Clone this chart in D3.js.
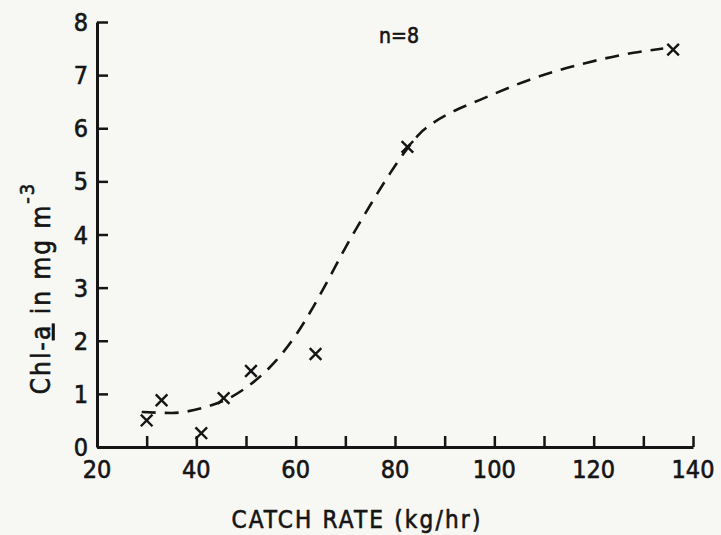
<!DOCTYPE html>
<html lang="en">
<head>
    <meta charset="UTF-8">
    <title>Chl-a vs catch rate</title>
    <script type="text/javascript" src="https://d3js.org/d3.v7.min.js"></script>
    <style>
        body { margin: 0; background: #f7f7f4; }
        svg { display: block; }
        text {
            font-family: "DejaVu Sans Condensed", "DejaVu Sans", sans-serif;
            font-stretch: condensed;
            fill: #151515;
            stroke: #151515;
            stroke-width: 0.6px;
        }
        .axis path, .axis line { stroke: #151515; }
    </style>
</head>
<body>
    <script type="text/javascript">
        // measured points (catch rate, chl-a)
        var catchRate = [30, 33, 41, 45.5, 51, 64, 82.5, 136];
        var chlA = [0.5, 0.88, 0.26, 0.92, 1.43, 1.75, 5.65, 7.48];

        // dashed fitted curve
        var curveX = [29, 35, 41, 47, 52, 56, 60, 63, 66, 70, 75, 79, 82.5, 85, 88, 92, 97, 107, 118.5, 128, 134];
        var curveY = [0.66, 0.64, 0.73, 0.94, 1.26, 1.62, 2.1, 2.55, 3.05, 3.75, 4.55, 5.15, 5.62, 5.9, 6.12, 6.33, 6.53, 6.91, 7.23, 7.42, 7.5];

        var xTicks = [30, 40, 50, 60, 70, 80, 90, 100, 110, 120, 130, 140];
        var xLabels = [20, 40, 60, 80, 100, 120, 140];
        var yTicks = [0, 1, 2, 3, 4, 5, 6, 7, 8];

        const width = 721;
        const height = 535;

        var svg = d3.select('body').append('svg')
            .attr('width', width)
            .attr('height', height);

        var xScale = d3.scaleLinear().domain([20, 140]).range([97, 693]);
        var yScale = d3.scaleLinear().domain([0, 8]).range([447, 22]);

        // x axis, ticks point up into the plot
        var xaxis = d3.axisBottom(xScale)
            .tickValues(xTicks)
            .tickSizeInner(-11)
            .tickSizeOuter(0)
            .tickFormat('');
        var gx = svg.append('g').attr('class', 'axis')
            .attr('transform', 'translate(0,' + yScale(0) + ')')
            .call(xaxis);
        gx.select('.domain').attr('stroke-width', 3);
        gx.selectAll('.tick line').attr('stroke-width', 2.5);

        svg.append('g').selectAll('text')
            .data(xLabels)
            .enter()
            .append('text')
            .attr('x', d => xScale(d))
            .attr('y', yScale(0) + 31)
            .attr('text-anchor', 'middle')
            .attr('font-size', 25)
            .text(d => d);

        // y axis, ticks point right
        var yaxis = d3.axisLeft(yScale)
            .tickValues(yTicks)
            .tickSizeInner(-11)
            .tickSizeOuter(0)
            .tickFormat('');
        var gy = svg.append('g').attr('class', 'axis')
            .attr('transform', 'translate(' + xScale(20) + ',0)')
            .call(yaxis);
        gy.select('.domain').attr('stroke-width', 3);
        gy.selectAll('.tick line').attr('stroke-width', 2.5);

        svg.append('g').selectAll('text')
            .data(yTicks)
            .enter()
            .append('text')
            .attr('x', xScale(20) - 9)
            .attr('y', d => yScale(d))
            .attr('dy', '0.36em')
            .attr('text-anchor', 'end')
            .attr('font-size', 25)
            .text(d => d);

        // fitted curve
        var line = d3.line()
            .x((d, i) => xScale(curveX[i]))
            .y(d => yScale(d))
            .curve(d3.curveMonotoneX);

        svg.append('path')
            .datum(curveY)
            .attr('d', line)
            .attr('fill', 'none')
            .attr('stroke', '#151515')
            .attr('stroke-width', 2.6)
            .attr('stroke-dasharray', '14,9');

        // x markers
        svg.append('g').selectAll('path')
            .data(chlA)
            .enter()
            .append('path')
            .attr('d', d3.symbol(d3.symbolX, 90))
            .attr('transform', (d, i) => 'translate(' + xScale(catchRate[i]) + ',' + yScale(d) + ')')
            .attr('fill', 'none')
            .attr('stroke', '#151515')
            .attr('stroke-width', 2.4);

        // labels
        svg.append('text')
            .attr('x', 399)
            .attr('y', 43)
            .attr('text-anchor', 'middle')
            .attr('font-size', 21)
            .text('n=8');

        svg.append('text')
            .attr('x', 357)
            .attr('y', 528)
            .attr('text-anchor', 'middle')
            .attr('font-size', 24)
            .attr('letter-spacing', 2.2)
            .text('CATCH RATE (kg/hr)');

        var ylab = svg.append('text')
            .attr('transform', 'translate(50,288) rotate(-90)')
            .attr('text-anchor', 'middle')
            .attr('font-size', 26)
            .attr('letter-spacing', 2);
        ylab.append('tspan').text('Chl-');
        ylab.append('tspan').attr('text-decoration', 'underline').text('a');
        ylab.append('tspan').text(' in mg m');
        ylab.append('tspan').attr('dy', -16).attr('font-size', 20).text('-3');
    </script>
</body>
</html>
